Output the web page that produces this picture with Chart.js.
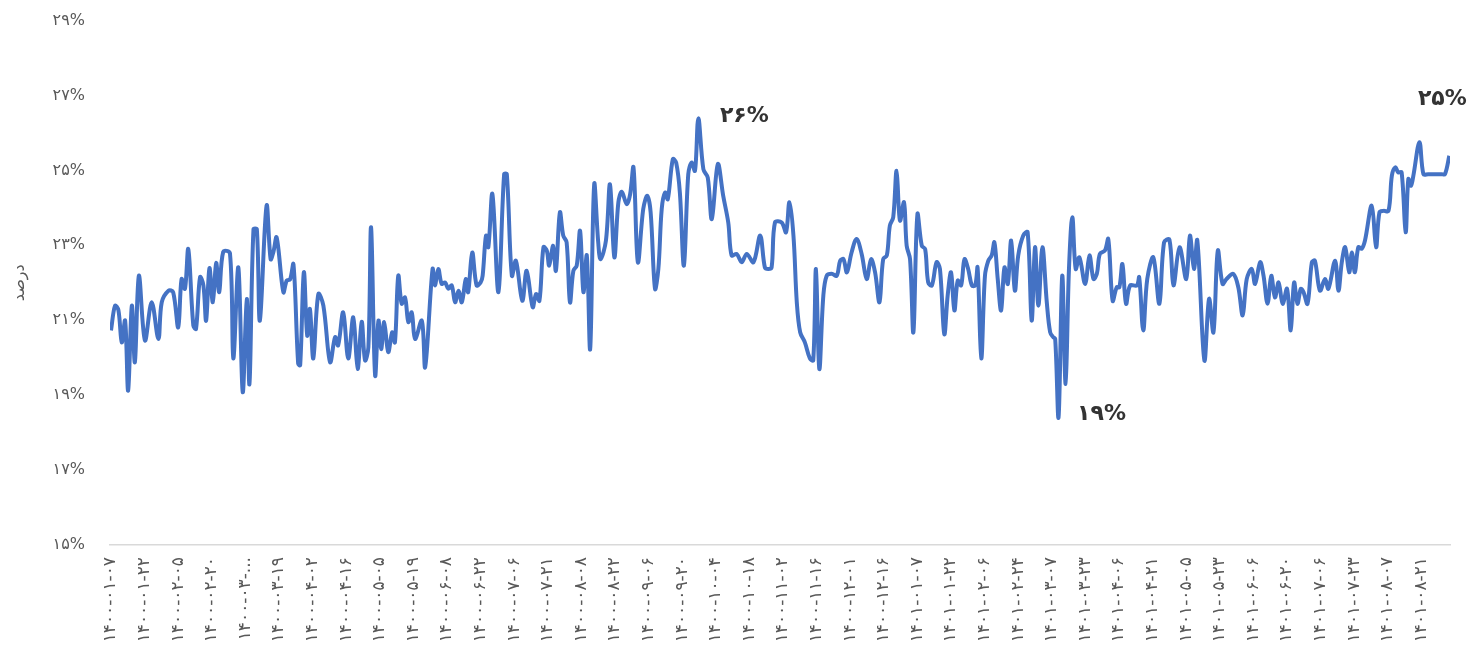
<!DOCTYPE html>
<html lang="fa">
<head>
<meta charset="utf-8">
<title>درصد</title>
<script src="https://cdn.jsdelivr.net/npm/chart.js@4.4.1/dist/chart.umd.min.js"></script>
<style>
  html, body { margin: 0; padding: 0; background: #fff; overflow: hidden; }
  #wrap { position: absolute; left: 0; top: -14px; width: 1468px; height: 714px; }
</style>
</head>
<body>
<div id="wrap"><canvas id="chart"></canvas></div>
<script>
// tick labels on the x axis (one every 10 trading days)
const dateLabels = [
  '۱۴۰۰-۰۱-۰۷', '۱۴۰۰-۰۱-۲۲', '۱۴۰۰-۰۲-۰۵', '۱۴۰۰-۰۲-۲۰', '۱۴۰۰-۰۳-...',
  '۱۴۰۰-۰۳-۱۹', '۱۴۰۰-۰۴-۰۲', '۱۴۰۰-۰۴-۱۶', '۱۴۰۰-۰۵-۰۵', '۱۴۰۰-۰۵-۱۹',
  '۱۴۰۰-۰۶-۰۸', '۱۴۰۰-۰۶-۲۲', '۱۴۰۰-۰۷-۰۶', '۱۴۰۰-۰۷-۲۱', '۱۴۰۰-۰۸-۰۸',
  '۱۴۰۰-۰۸-۲۲', '۱۴۰۰-۰۹-۰۶', '۱۴۰۰-۰۹-۲۰', '۱۴۰۰-۱۰-۰۴', '۱۴۰۰-۱۰-۱۸',
  '۱۴۰۰-۱۱-۰۲', '۱۴۰۰-۱۱-۱۶', '۱۴۰۰-۱۲-۰۱', '۱۴۰۰-۱۲-۱۶', '۱۴۰۱-۰۱-۰۷',
  '۱۴۰۱-۰۱-۲۲', '۱۴۰۱-۰۲-۰۶', '۱۴۰۱-۰۲-۲۴', '۱۴۰۱-۰۳-۰۷', '۱۴۰۱-۰۳-۲۳',
  '۱۴۰۱-۰۴-۰۶', '۱۴۰۱-۰۴-۲۱', '۱۴۰۱-۰۵-۰۵', '۱۴۰۱-۰۵-۲۳', '۱۴۰۱-۰۶-۰۶',
  '۱۴۰۱-۰۶-۲۰', '۱۴۰۱-۰۷-۰۶', '۱۴۰۱-۰۷-۲۳', '۱۴۰۱-۰۸-۰۷', '۱۴۰۱-۰۸-۲۱'
];

// trading day index (0 = 1400-01-07)
const dayIdx = [
  0, 1.2, 2.2, 3.2, 4.2, 5.1, 6.2, 7.1, 8.3, 10.1, 12.1, 14.1, 15.1, 17.1, 18.5, 20, 21, 22, 23, 24.5,
  25.3, 26.5, 27.5, 28.3, 29.3, 30.3, 31.3, 32.2, 33.4, 35.4, 36.4, 37.9, 39.2, 40.4, 41.2, 42.4, 43.4, 44.3, 46.3, 47.5,
  48.3, 49.3, 51.3, 52.3, 53.3, 54.3, 55.7, 56.3, 57.4, 58.4, 59.2, 60.2, 61.7, 63.2, 65.2, 66.7, 67.6, 69.1, 70.6, 72.1,
  73.4, 74.6, 75.6, 76.6, 77.4, 78.6, 79.6, 80.4, 81.3, 82.5, 83.7, 84.5, 85.5, 86.5, 87.5, 88.5, 89.5, 90.5, 92.5, 93.5,
  95.7, 96.4, 97.4, 98.4, 99.4, 100.4, 101.4, 102.4, 103.4, 104.4, 105.6, 106.3, 107.5, 108.8, 110, 110.6, 111.6, 112.3, 113.5, 115.3,
  117, 117.8, 119.3, 120.5, 122.4, 123.7, 125.5, 126.5, 127.5, 128.7, 129.7, 130.4, 131.6, 132.4, 133.6, 134.6, 135.6, 136.6, 137.6, 138.6,
  139.6, 140.6, 141.6, 142.6, 143.8, 145, 145.7, 147.3, 148.5, 149.8, 151, 152, 153.5, 154.5, 155.5, 156.8, 158.4, 159.6, 160.6, 161.9,
  162.9, 163.9, 164.9, 165.7, 167.2, 168.2, 169.3, 170.5, 171.8, 172.8, 173.8, 174.8, 176.3, 177.6, 178.8, 180.6, 182.2, 183.7, 184.7, 186.2,
  187.7, 189.2, 191.2, 193.2, 194.6, 195.6, 196.6, 197.6, 199.6, 200.9, 201.9, 203.1, 204.1, 205.1, 206.5, 208, 209, 209.8, 210.8, 212,
  213, 214.5, 216, 217, 218, 219, 220.4, 221.9, 223.4, 224.9, 226.2, 227.4, 228.7, 229.8, 230.9, 231.8, 232.8, 233.8, 234.8, 236,
  236.8, 237.8, 238.8, 240, 241.3, 242.3, 243.2, 244.3, 245.7, 246.7, 248, 249, 250, 251, 252, 253, 254, 255.1, 256.2, 257.2,
  257.9, 259, 260.1, 261.1, 262.1, 262.9, 263.9, 264.9, 265.9, 266.9, 267.9, 269, 270, 271.5, 272.8, 274, 275, 276, 277.2, 278.5,
  279.5, 280.4, 281, 282, 283.1, 284.1, 285.1, 286.1, 287.1, 288.2, 289.9, 291.2, 292.4, 293.4, 294.3, 295.8, 296.8, 298.1, 299.3, 300.1,
  301, 302.1, 303.3, 305.3, 306, 307.2, 308.4, 310.2, 312, 313.4, 315, 316.2, 318, 320, 321.1, 322.3, 323.3, 325.4, 326.8, 328.1,
  329.4, 330.8, 332, 334, 335.5, 336.8, 338, 339.5, 340.5, 342, 343, 344.2, 345.3, 346.4, 347.5, 348.7, 350, 351.1, 352.1, 353.1,
  354.1, 354.9, 356.1, 357.4, 358.3, 359.8, 361.3, 362.3, 364.3, 365.3, 366.3, 367.3, 368.5, 369.3, 370.2, 371.2, 372.2, 373.2, 375.2, 376.5,
  377.5, 378.7, 380.2, 381.2, 382.2, 383.1, 384.1, 385.3, 386.1, 386.9, 387.6, 389.4, 390.6, 392, 393, 394, 395, 396, 397, 398.3
];

// rate in percent
const rate = [
  20.73, 21.39, 21.27, 20.41, 20.99, 19.12, 21.39, 19.88, 22.19, 20.46, 21.48, 20.5, 21.48, 21.79, 21.75, 20.81, 22.1, 21.84, 22.9, 20.86,
  20.77, 22.15, 21.93, 20.99, 22.39, 21.48, 22.53, 21.75, 22.83, 22.79, 19.98, 22.41, 19.08, 21.57, 19.3, 23.43, 23.43, 20.99, 24.06, 22.63,
  22.81, 23.21, 21.75, 22.06, 22.09, 22.5, 19.84, 19.8, 22.28, 20.59, 21.3, 19.98, 21.7, 21.39, 19.88, 20.55, 20.33, 21.21, 19.98, 21.08,
  19.7, 20.96, 19.93, 20.28, 23.48, 19.53, 20.99, 20.23, 20.95, 20.15, 20.68, 20.41, 22.19, 21.44, 21.61, 20.95, 21.21, 20.5, 20.99, 19.75,
  22.37, 21.93, 22.37, 21.97, 22.01, 21.84, 21.93, 21.48, 21.79, 21.48, 22.1, 21.75, 22.81, 21.93, 22.01, 22.19, 23.26, 22.95, 24.37, 21.75,
  24.9, 24.9, 22.19, 22.59, 21.52, 22.32, 21.35, 21.7, 21.52, 22.95, 22.86, 22.46, 22.99, 22.32, 23.88, 23.26, 23.08, 21.48, 22.32, 22.46,
  23.39, 21.75, 22.73, 20.23, 24.63, 23.08, 22.63, 23.13, 24.63, 22.68, 24.15, 24.43, 24.1, 24.37, 25.08, 22.55, 23.97, 24.32, 23.88, 21.84,
  22.37, 23.97, 24.41, 24.23, 25.3, 25.21, 24.41, 22.46, 24.9, 25.21, 24.99, 26.39, 25.03, 24.81, 23.7, 25.17, 24.32, 23.61, 22.73, 22.77,
  22.55, 22.77, 22.55, 23.26, 22.41, 22.37, 22.41, 23.61, 23.61, 23.35, 24.15, 23.26, 21.48, 20.68, 20.41, 19.98, 19.93, 22.37, 19.7, 21.66,
  22.19, 22.24, 22.19, 22.59, 22.63, 22.28, 22.81, 23.17, 22.77, 22.1, 22.63, 22.28, 21.48, 22.63, 22.73, 23.53, 23.75, 24.99, 23.66, 24.15,
  22.99, 22.63, 20.68, 23.83, 22.99, 22.9, 22.01, 21.93, 22.55, 22.37, 20.63, 21.66, 22.28, 21.26, 22.06, 21.93, 22.63, 22.37, 21.93, 21.93,
  22.41, 19.98, 22.19, 22.59, 22.73, 23.08, 22.1, 21.26, 22.41, 21.97, 23.13, 21.79, 22.73, 23.26, 23.35, 20.99, 22.95, 21.39, 22.95, 21.48,
  20.68, 20.55, 20.5, 18.41, 22.19, 19.3, 22.37, 23.75, 22.37, 22.68, 21.97, 22.73, 22.1, 22.24, 22.77, 22.86, 23.17, 21.52, 21.88, 21.88,
  22.5, 21.44, 21.93, 21.93, 22.15, 20.73, 22.1, 22.68, 21.44, 23.08, 23.15, 21.93, 22.95, 22.1, 23.26, 22.37, 23.13, 19.93, 21.57, 20.68,
  22.86, 21.97, 22.1, 22.24, 21.88, 21.13, 22.1, 22.37, 21.97, 22.55, 22.19, 21.44, 22.19, 21.61, 22.01, 21.44, 21.84, 20.73, 22.01, 21.44,
  21.84, 21.75, 21.44, 22.55, 22.59, 21.79, 22.1, 21.84, 22.59, 21.79, 22.55, 22.95, 22.28, 22.81, 22.28, 22.95, 22.91, 23.13, 24.06, 22.95,
  23.88, 23.92, 23.92, 24.86, 25.08, 24.95, 24.95, 23.35, 24.77, 24.59, 24.86, 25.75, 24.9, 24.9, 24.9, 24.9, 24.9, 24.9, 24.9, 25.39
];

// y axis ticks
const yTicks = [15, 17, 19, 21, 23, 25, 27, 29];

// callout labels: which point and what text
const callouts = [
  { at: 'max', text: '۲۶%' },
  { at: 'min', text: '۱۹%' },
  { at: 'last', text: '۲۵%' }
];

const faDigits = '۰۱۲۳۴۵۶۷۸۹';
function toFa(n) {
  return String(n).replace(/\d/g, d => faDigits[d]);
}

const points = dayIdx.map((d, i) => ({ x: d, y: rate[i] }));

function pointIndex(kind) {
  if (kind === 'last') return rate.length - 1;
  let best = 0;
  rate.forEach((v, i) => {
    if (kind === 'max' ? v > rate[best] : v < rate[best]) best = i;
  });
  return best;
}

// offsets of each callout from its point
const calloutStyle = {
  max:  { dx: 46, dy: -2 },
  min:  { dx: 43, dy: -3 },
  last: { dx: -7, dy: -57 }
};

const calloutPlugin = {
  id: 'callouts',
  afterDatasetsDraw(chart) {
    const { ctx, scales: { x, y } } = chart;
    ctx.save();
    ctx.font = 'bold 22px "DejaVu Sans", sans-serif';
    ctx.fillStyle = '#333333';
    ctx.textAlign = 'center';
    ctx.textBaseline = 'middle';
    callouts.forEach(c => {
      const i = pointIndex(c.at);
      const st = calloutStyle[c.at];
      const px = x.getPixelForValue(dayIdx[i]) + st.dx;
      const py = y.getPixelForValue(rate[i]) + st.dy;
      ctx.fillText(c.text, px, py);
    });
    ctx.restore();
  }
};

const fontFam = '"DejaVu Sans", "Noto Sans", sans-serif';

new Chart(document.getElementById('chart'), {
  type: 'line',
  data: {
    datasets: [{
      label: 'درصد',
      data: points,
      borderColor: '#4472C4',
      borderWidth: 4,
      pointRadius: 0,
      tension: 0.35,
      fill: false
    }]
  },
  options: {
    responsive: true,
    maintainAspectRatio: false,
    animation: false,
    layout: { padding: { top: 4, right: 18, left: 0, bottom: 0 } },
    plugins: {
      legend: { display: false },
      tooltip: { enabled: false }
    },
    scales: {
      x: {
        type: 'linear',
        min: -0.3,
        max: 398.5,
        grid: { display: false, drawTicks: false },
        border: { display: true, color: '#d9d9d9', width: 1.5 },
        afterBuildTicks: (scale) => {
          scale.ticks = dateLabels.map((_, i) => ({ value: i * 10 }));
        },
        afterFit: (scale) => { scale.height = 155; },
        ticks: {
          autoSkip: false,
          minRotation: 90,
          maxRotation: 90,
          padding: 12,
          color: '#595959',
          font: { family: fontFam, size: 17 },
          callback: (value, index) => dateLabels[index]
        }
      },
      y: {
        min: 15,
        max: 29,
        grid: { display: false, drawTicks: false },
        border: { display: false },
        afterBuildTicks: (scale) => {
          scale.ticks = yTicks.map(v => ({ value: v }));
        },
        afterFit: (scale) => { scale.width = 110; },
        ticks: {
          padding: 25,
          color: '#595959',
          font: { family: fontFam, size: 16 },
          callback: (v) => toFa(v) + '%'
        },
        title: {
          display: true,
          text: 'درصد',
          color: '#595959',
          font: { family: fontFam, size: 16 },
          padding: { top: 10, bottom: 0 }
        }
      }
    }
  },
  plugins: [calloutPlugin]
});
</script>
</body>
</html>
